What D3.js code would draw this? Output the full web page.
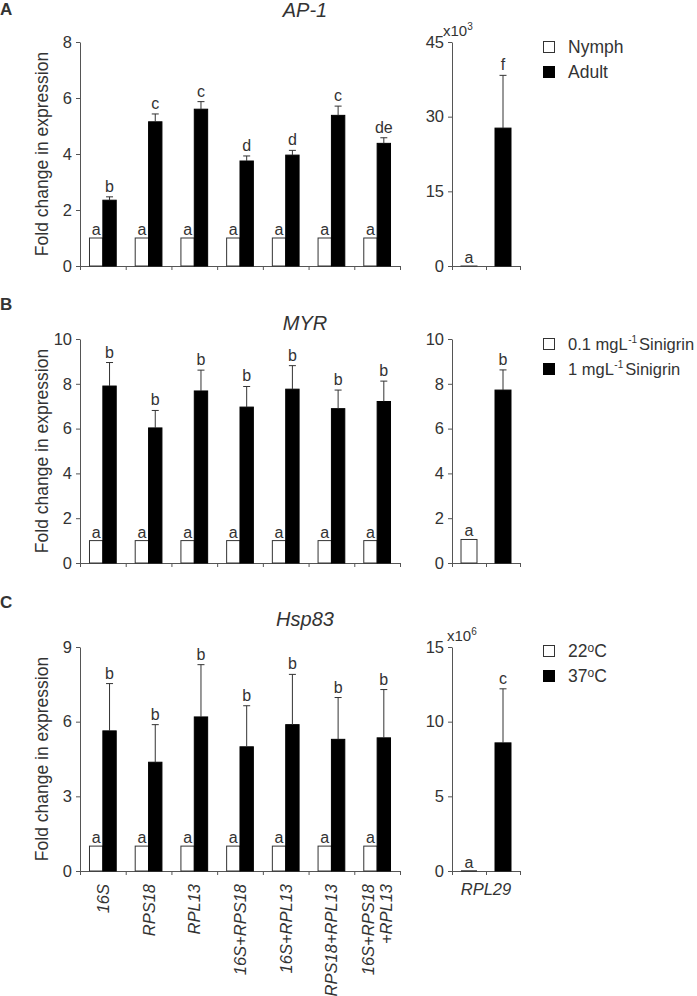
<!DOCTYPE html>
<html><head><meta charset="utf-8">
<script src="https://cdn.jsdelivr.net/npm/d3@7"></script>
<style>
body{margin:0;background:#fff}
svg{display:block}
text{font-family:"Liberation Sans",Arial,sans-serif;fill:#333}
</style>
</head><body>
<svg id="chart" width="697" height="996"></svg>
<script>
// ---------- DATA ----------
const categories = ["16S","RPS18","RPL13","16S+RPS18","16S+RPL13","RPS18+RPL13","16S+RPS18+RPL13"];
const refCategory = "RPL29";

// Panel A : AP-1
const apSeries = ["Nymph","Adult"];
const apNymph = [1,1,1,1,1,1,1];
const apAdult = [2.35,5.15,5.6,3.75,3.96,5.38,4.38];
const apAdultErr = [0.12,0.28,0.27,0.18,0.17,0.33,0.2];
const apNymphLetters = ["a","a","a","a","a","a","a"];
const apAdultLetters = ["b","c","c","d","d","c","de"];
const apRefValues = [0.001,27.7];   // x10^3
const apRefErr = [0,10.6];
const apRefLetters = ["a","f"];
const apTicks = [0,2,4,6,8];
const apRefTicks = [0,15,30,45];

// Panel B : MYR
const myrSeries = ["0.1 mgL","1 mgL"];
const myrLow = [1,1,1,1,1,1,1];
const myrHigh = [7.9,6.03,7.68,6.96,7.76,6.89,7.21];
const myrHighErr = [1.05,0.78,0.93,0.92,1.05,0.83,0.91];
const myrLowLetters = ["a","a","a","a","a","a","a"];
const myrHighLetters = ["b","b","b","b","b","b","b"];
const myrRefValues = [1.05,7.72];
const myrRefErr = [0,0.9];
const myrRefLetters = ["a","b"];
const myrTicks = [0,2,4,6,8,10];
const myrRefTicks = [0,2,4,6,8,10];

// Panel C : Hsp83
const hspSeries = ["22","37"];
const hsp22 = [1,1,1,1,1,1,1];
const hsp37 = [5.63,4.37,6.19,4.99,5.88,5.29,5.35];
const hsp37Err = [1.9,1.51,2.1,1.65,2.02,1.68,1.94];
const hsp22Letters = ["a","a","a","a","a","a","a"];
const hsp37Letters = ["b","b","b","b","b","b","b"];
const hspRefValues = [0.000001,8.58];  // x10^6
const hspRefErr = [0,3.62];
const hspRefLetters = ["a","c"];
const hspTicks = [0,3,6,9];
const hspRefTicks = [0,5,10,15];

// ---------- DRAWING ----------
const svg = d3.select("#chart");
const AX = "#555";
const TICK_FS = 16.5, LET_FS = 16;

const x0 = d3.scaleBand().domain(categories).range([80,400]);
const x1 = d3.scaleBand().domain([0,1]).range([0,x0.bandwidth()]).paddingOuter(0.71);
const xR = d3.scaleBand().domain([0,1]).range([452,520]).paddingInner(0.53).paddingOuter(0.265);

function styleAxis(sel, fs){
  sel.selectAll("path").attr("stroke",AX);
  sel.selectAll("line").attr("stroke",AX);
  sel.selectAll("text").attr("font-size",fs).attr("fill","#333").attr("font-family",'"Liberation Sans",Arial,sans-serif');
}

function drawPanel(p){
  const g = svg.append("g");
  const y = d3.scaleLinear().domain([0,d3.max(p.ticks)]).range([p.bottom,p.top]);
  const yR = d3.scaleLinear().domain([0,d3.max(p.refTicks)]).range([p.bottom,p.top]);

  g.append("text").attr("x",0).attr("y",p.letterY).text(p.letter)
    .attr("font-size",17).attr("font-weight","bold").attr("fill","#000");
  g.append("text").attr("x",305).attr("y",p.titleY).attr("text-anchor","middle")
    .attr("font-size",20).attr("font-style","italic").text(p.title);

  g.append("g").attr("transform","translate(80,0)")
    .call(d3.axisLeft(y).tickValues(p.ticks).tickSize(4).tickSizeOuter(0).tickPadding(4))
    .call(s=>styleAxis(s,TICK_FS));
  g.append("g").attr("transform","translate(452,0)")
    .call(d3.axisLeft(yR).tickValues(p.refTicks).tickSize(4).tickSizeOuter(0).tickPadding(4))
    .call(s=>styleAxis(s,TICK_FS));
  g.append("g").attr("transform",`translate(0,${p.bottom})`)
    .call(d3.axisBottom(d3.scaleLinear().domain([0,categories.length]).range([80,400]))
      .tickValues(d3.range(categories.length+1)).tickFormat("").tickSize(4).tickSizeOuter(0))
    .call(s=>styleAxis(s,TICK_FS));
  g.append("g").attr("transform",`translate(0,${p.bottom})`)
    .call(d3.axisBottom(d3.scaleLinear().domain([0,2]).range([452,520]))
      .tickValues([0,1,2]).tickFormat("").tickSize(4).tickSizeOuter(0))
    .call(s=>styleAxis(s,TICK_FS));

  g.append("text").attr("transform",`translate(48,${(p.top+p.bottom)/2}) rotate(-90)`)
    .attr("text-anchor","middle").attr("font-size",17.5).text("Fold change in expression");

  if(p.mult){
    const t = g.append("text").attr("x",p.multX).attr("y",p.top-6).attr("font-size",15);
    t.append("tspan").text("x10");
    t.append("tspan").attr("dy",-6).attr("font-size",10).text(p.mult);
  }

  const series = [p.s0, p.s1];
  categories.forEach((c,i)=>{
    [0,1].forEach(k=>{
      const v = series[k][i];
      const bx = x0(c)+x1(k), bw = x1.bandwidth();
      g.append("rect").attr("x",bx).attr("y",y(v)).attr("width",bw).attr("height",p.bottom-y(v))
        .attr("fill",k===0?"#fff":"#000").attr("stroke",k===0?"#333":"#000").attr("stroke-width",1);
      const cx = bx+bw/2;
      let topY;
      if(k===1){
        const e = p.err[i];
        g.append("line").attr("x1",cx).attr("x2",cx).attr("y1",y(v)).attr("y2",y(v+e)).attr("stroke","#333");
        g.append("line").attr("x1",cx-3.5).attr("x2",cx+3.5).attr("y1",y(v+e)).attr("y2",y(v+e)).attr("stroke","#333");
        topY = y(v+e)-5;
      } else topY = y(v)-3;
      g.append("text").attr("x",cx).attr("y",topY).attr("text-anchor","middle").attr("font-size",LET_FS)
        .text((k===0?p.l0:p.l1)[i]);
    });
  });

  [0,1].forEach(k=>{
    const v = p.refV[k], e = p.refE[k];
    const bx = xR(k), bw = xR.bandwidth(), cx = bx+bw/2;
    g.append("rect").attr("x",bx).attr("y",yR(v)).attr("width",bw).attr("height",p.bottom-yR(v))
      .attr("fill",k===0?"#fff":"#000").attr("stroke",k===0?"#333":"#000");
    let topY = yR(v)-3;
    if(e>0){
      g.append("line").attr("x1",cx).attr("x2",cx).attr("y1",yR(v)).attr("y2",yR(v+e)).attr("stroke","#333");
      g.append("line").attr("x1",cx-3.5).attr("x2",cx+3.5).attr("y1",yR(v+e)).attr("y2",yR(v+e)).attr("stroke","#333");
      topY = yR(v+e)-5;
    }
    g.append("text").attr("x",cx).attr("y",topY).attr("text-anchor","middle").attr("font-size",LET_FS).text(p.refL[k]);
  });

  p.legend.forEach((lab,k)=>{
    const ly = p.legendY + k*25;
    g.append("rect").attr("x",543.5).attr("y",ly+0.5).attr("width",11).attr("height",11)
      .attr("fill",k===0?"#fff":"#000").attr("stroke",k===0?"#333":"#000");
    const t = g.append("text").attr("x",568).attr("y",ly+11.5).attr("font-size",p.legendFs||17.5);
    lab(t);
  });
}

drawPanel({letter:"A",letterY:15,title:"AP-1",titleY:17,top:42,bottom:266,
  ticks:apTicks,refTicks:apRefTicks,mult:"3",multX:443,
  s0:apNymph,s1:apAdult,err:apAdultErr,l0:apNymphLetters,l1:apAdultLetters,
  refV:apRefValues,refE:apRefErr,refL:apRefLetters,legendY:41,
  legend:[t=>t.text(apSeries[0]), t=>t.text(apSeries[1])]});

function sinigrin(t,s){
  t.append("tspan").text(s);
  t.append("tspan").attr("dy",-7).attr("dx",0.5).attr("font-size",10).text("-1");
  t.append("tspan").attr("dy",7).attr("dx",2).text("Sinigrin");
}
drawPanel({letter:"B",letterY:310,title:"MYR",titleY:330,top:339,bottom:563,
  ticks:myrTicks,refTicks:myrRefTicks,mult:null,legendFs:16.5,
  s0:myrLow,s1:myrHigh,err:myrHighErr,l0:myrLowLetters,l1:myrHighLetters,
  refV:myrRefValues,refE:myrRefErr,refL:myrRefLetters,legendY:338,
  legend:[t=>sinigrin(t,myrSeries[0]), t=>sinigrin(t,myrSeries[1])]});

function degC(t,s){
  t.append("tspan").text(s);
  t.append("tspan").attr("dy",-5).attr("font-size",12).text("o");
  t.append("tspan").attr("dy",5).text("C");
}
drawPanel({letter:"C",letterY:608,title:"Hsp83",titleY:626,top:647,bottom:871,
  ticks:hspTicks,refTicks:hspRefTicks,mult:"6",multX:447,
  s0:hsp22,s1:hsp37,err:hsp37Err,l0:hsp22Letters,l1:hsp37Letters,
  refV:hspRefValues,refE:hspRefErr,refL:hspRefLetters,legendY:645,
  legend:[t=>degC(t,hspSeries[0]), t=>degC(t,hspSeries[1])]});

// category labels (under panel C)
const labG = svg.append("g");
categories.forEach(c=>{
  const cx = x0(c)+x0.bandwidth()/2;
  const parts = c==="16S+RPS18+RPL13" ? ["16S+RPS18","+RPL13"] : [c];
  const off = parts.length===1 ? 6 : -3.5;
  const t = labG.append("text").attr("transform",`translate(${cx+off},884) rotate(-90)`)
    .attr("text-anchor","end").attr("font-size",16.5).attr("font-style","italic");
  parts.forEach((s,j)=>t.append("tspan").attr("x",0).attr("dy",j===0?0:"1.1em").text(s));
});
labG.append("text").attr("x",486).attr("y",895).attr("text-anchor","middle")
  .attr("font-size",16.5).attr("font-style","italic").text(refCategory);
</script>
</body></html>
